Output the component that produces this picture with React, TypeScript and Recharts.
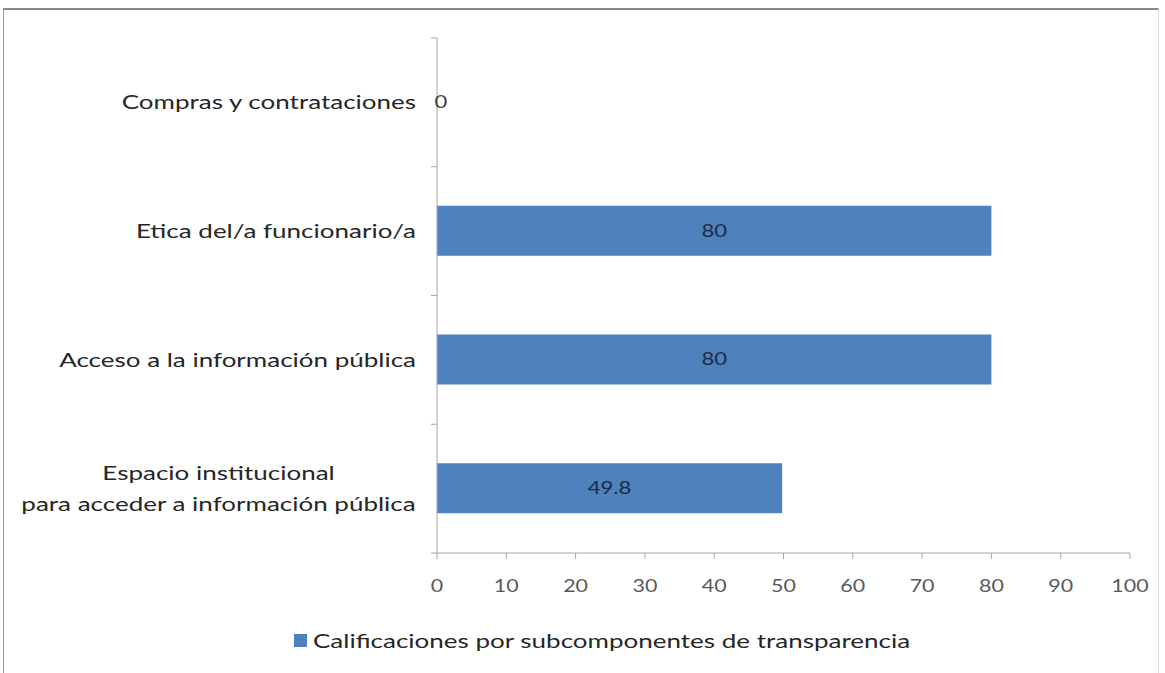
import React from "react";
import { BarChart, Bar, XAxis, YAxis, LabelList } from "recharts";

const categories = [
  "Compras y contrataciones",
  "Etica del/a funcionario/a",
  "Acceso a la información pública",
  "Espacio institucional\npara acceder a información pública",
];
const values = [0, 80, 80, 49.8];
const xTicks = [0, 10, 20, 30, 40, 50, 60, 70, 80, 90, 100];
const seriesName = "Calificaciones por subcomponentes de transparencia";

const data = categories.map((name, i) => ({ name, value: values[i] }));

const W = 1165;
const H = 673;
const M = { top: 38, right: 35, left: 0, bottom: 70 };
const YW = 437;
const XH = 50;
const FONT = "Lato, 'Open Sans', sans-serif";
const SX = 1.3;
const CAT_SIZE = 20;
const TICK_SIZE = 16.5;
const LBL_SIZE = 17;
const HALF_BAND = (H - M.top - M.bottom - XH) / categories.length / 2;

let ctx: CanvasRenderingContext2D | null = null;
function measure(t: string, size: number): number {
  if (!ctx) {
    const c = document.createElement("canvas");
    ctx = c.getContext("2d");
  }
  if (!ctx) return t.length * size * 0.5;
  ctx.font = `${size}px Lato`;
  return ctx.measureText(t).width;
}

const SText = (p: any) => (
  <text
    transform={`translate(${p.x} ${p.y}) scale(${SX} 1)`}
    x={0}
    y={0}
    dy={p.dy ?? "0.35em"}
    textAnchor={p.anchor ?? "middle"}
    fontSize={p.size}
    fontFamily={FONT}
    fill={p.fill}
  >
    {p.children}
  </text>
);

const YTick = (props: any) => {
  const { x, y, payload, index } = props;
  const axisX = x + 21;
  const lines: string[] = String(payload.value).split("\n");
  const maxW = Math.max(...lines.map((l) => measure(l, CAT_SIZE))) * SX;
  const cx = x - maxW / 2;
  const lh = 31;
  const startY = y - ((lines.length - 1) * lh) / 2;
  return (
    <g>
      <line x1={axisX - 6} x2={axisX} y1={y - HALF_BAND} y2={y - HALF_BAND} stroke="#A6A6A6" />
      {index === categories.length - 1 && (
        <line x1={axisX - 6} x2={axisX} y1={y + HALF_BAND} y2={y + HALF_BAND} stroke="#A6A6A6" />
      )}
      {lines.map((l, i) => (
        <SText
          key={i}
          x={lines.length > 1 ? cx : x}
          y={startY + i * lh}
          anchor={lines.length > 1 ? "middle" : "end"}
          size={CAT_SIZE}
          fill="#262626"
        >
          {l}
        </SText>
      ))}
    </g>
  );
};

const XTick = (props: any) => {
  const { x, y, payload } = props;
  return (
    <SText x={x} y={y} dy="0.71em" anchor="middle" size={TICK_SIZE} fill="#595959">
      {payload.value}
    </SText>
  );
};

const BarLabel = (props: any) => {
  const { x, y, width, height, value } = props;
  const w = Math.abs(Number(width || 0));
  const small = w < 2;
  const cx = Number(x) + w / 2 + (small ? 4 : 0);
  const cy = Number(y) + Number(height || 0) / 2;
  return (
    <SText x={cx} y={cy} anchor="middle" size={LBL_SIZE} fill={small ? "#404040" : "#1c2b44"}>
      {value}
    </SText>
  );
};

const minSize = (v: any) => (Number(v) === 0 ? 0.01 : 0);

export default function App() {
  return (
    <div style={{ position: "absolute", left: 0, top: 0, width: W, height: H, background: "#fff", overflow: "hidden" }}>
      <div
        style={{
          position: "absolute",
          left: 3,
          top: 8,
          width: 1156,
          height: 670,
          borderTop: "2px solid #8a8a8a",
          borderLeft: "1px solid #9a9a9a",
          borderRight: "1px solid #e2e2e2",
          boxSizing: "border-box",
        }}
      />
      <div style={{ position: "absolute", left: 0, top: 0 }}>
        <BarChart width={W} height={H} data={data} layout="vertical" margin={M}>
          <XAxis
            type="number"
            domain={[0, 100]}
            ticks={xTicks}
            interval={0}
            height={XH}
            stroke="#A6A6A6"
            tickSize={6}
            tickMargin={21}
            tick={<XTick />}
          />
          <YAxis
            type="category"
            dataKey="name"
            width={YW}
            stroke="#A6A6A6"
            tickLine={false}
            tickSize={0}
            tickMargin={21}
            interval={0}
            tick={<YTick />}
          />
          <Bar dataKey="value" fill="#4F81BD" barSize={50} minPointSize={minSize} isAnimationActive={false}>
            <LabelList dataKey="value" content={<BarLabel />} />
          </Bar>
        </BarChart>
      </div>
      <div style={{ position: "absolute", left: 294, top: 634, width: 13, height: 13, background: "#4F81BD" }} />
      <div
        style={{
          position: "absolute",
          left: 313,
          top: 626,
          lineHeight: "28px",
          fontSize: 20,
          fontFamily: FONT,
          color: "#262626",
          whiteSpace: "nowrap",
          transform: `scaleX(${SX})`,
          transformOrigin: "left center",
        }}
      >
        {seriesName}
      </div>
    </div>
  );
}
